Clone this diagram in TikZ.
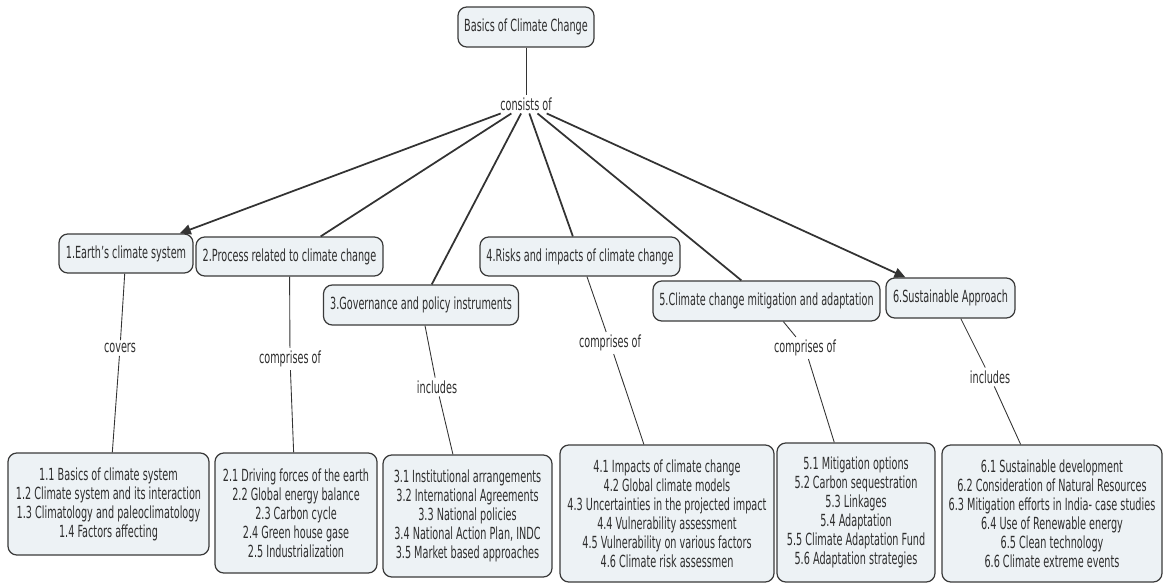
\documentclass[tikz,border=0pt]{standalone}
\usepackage{fontspec}
\setmainfont{DejaVu Sans}[FakeStretch=0.58]
\usetikzlibrary{arrows.meta}

\begin{document}
\begin{tikzpicture}[
    concept/.style={draw=borderColour, fill=fillColour, rounded corners=5pt, align=center,
        text=textColour, line width=0.7pt, inner sep=2pt, font=\fontsize{9.5}{10.8}\selectfont},
    linkword/.style={text=textColour, inner sep=1.5pt, font=\fontsize{9.5}{10.8}\selectfont},
    link/.style={draw=lineColour, line width=0.5pt},
    mainlink/.style={draw=lineColour, line width=1pt}
]
    % Colours
    \definecolor{borderColour}{HTML}{3A3A3A}
    \definecolor{fillColour}{HTML}{EDF2F5}
    \definecolor{textColour}{HTML}{2E2E2E}
    \definecolor{lineColour}{HTML}{333333}

    % Fix the page size
    \useasboundingbox (0,0) rectangle (23.28,-11.68);

    % Root concept
    \node[concept, minimum width=2.72cm, minimum height=0.8cm] (root) at (10.52,-0.54) {Basics of Climate Change};
    \node[linkword] (consists) at (10.52,-2.08) {consists of};

    % First level concepts
    \node[concept, minimum width=2.68cm, minimum height=0.78cm] (earth) at (2.52,-5.07) {1.Earth’s climate system};
    \node[concept, minimum width=3.74cm, minimum height=0.78cm] (process) at (5.79,-5.13) {2.Process related to climate change};
    \node[concept, minimum width=3.9cm, minimum height=0.8cm] (govern) at (8.42,-6.10) {3.Governance and policy instruments};
    \node[concept, minimum width=4.0cm, minimum height=0.78cm] (risks) at (11.60,-5.13) {4.Risks and impacts of climate change};
    \node[concept, minimum width=4.54cm, minimum height=0.8cm] (mitig) at (15.33,-6.02) {5.Climate change mitigation and adaptation};
    \node[concept, minimum width=2.58cm, minimum height=0.8cm] (sustain) at (19.01,-5.96) {6.Sustainable Approach};

    % Linking words
    \node[linkword] (covers) at (2.40,-6.96) {covers};
    \node[linkword] (compTwo) at (5.80,-7.18) {comprises of};
    \node[linkword] (inclThree) at (8.74,-7.74) {includes};
    \node[linkword] (compFour) at (12.20,-6.86) {comprises of};
    \node[linkword] (compFive) at (16.10,-6.96) {comprises of};
    \node[linkword] (inclSix) at (19.80,-7.54) {includes};

    % Second level concepts
    \node[concept, minimum width=4.02cm, minimum height=2.04cm] (earthList) at (2.17,-10.08)
        {1.1 Basics of climate system\\1.2 Climate system and its interaction\\1.3 Climatology and paleoclimatology\\1.4 Factors affecting};
    \node[concept, minimum width=3.24cm, minimum height=2.4cm] (processList) at (5.92,-10.26)
        {2.1 Driving forces of the earth\\2.2 Global energy balance\\2.3 Carbon cycle\\2.4 Green house gase\\2.5 Industrialization};
    \node[concept, minimum width=3.38cm, minimum height=2.44cm] (governList) at (9.35,-10.32)
        {3.1 Institutional arrangements\\3.2 International Agreements\\3.3 National policies\\3.4 National Action Plan, INDC\\3.5 Market based approaches};
    \node[concept, minimum width=4.28cm, minimum height=2.74cm] (risksList) at (13.34,-10.27)
        {4.1 Impacts of climate change\\4.2 Global climate models\\4.3 Uncertainties in the projected impact\\4.4 Vulnerability assessment\\4.5 Vulnerability on various factors\\4.6 Climate risk assessmen};
    \node[concept, minimum width=3.16cm, minimum height=2.78cm] (mitigList) at (17.12,-10.25)
        {5.1 Mitigation options\\5.2 Carbon sequestration\\5.3 Linkages\\5.4 Adaptation\\5.5 Climate Adaptation Fund\\5.6 Adaptation strategies};
    \node[concept, minimum width=4.4cm, minimum height=2.74cm] (sustainList) at (21.04,-10.27)
        {6.1 Sustainable development\\6.2 Consideration of Natural Resources\\6.3 Mitigation efforts in India- case studies\\6.4 Use of Renewable energy\\6.5 Clean technology\\6.6 Climate extreme events};

    % Draw links from the root
    \draw[link] (root) -- (consists);
    \draw[mainlink, -{Triangle[length=2.2mm, width=2mm]}] (consists) -- (earth);
    \draw[mainlink] (consists) -- (process);
    \draw[mainlink] (consists) -- (govern);
    \draw[mainlink] (consists) -- (risks);
    \draw[mainlink] (consists) -- (mitig);
    \draw[mainlink, -{Triangle[length=2.2mm, width=2mm]}] (consists) -- (sustain);

    % Draw links to the topic lists
    \draw[link] (earth) -- (covers) -- (earthList);
    \draw[link] (process) -- (compTwo) -- (processList);
    \draw[link] (govern) -- (inclThree) -- (governList);
    \draw[link] (risks) -- (compFour) -- (risksList);
    \draw[link] (mitig) -- (compFive) -- (mitigList);
    \draw[link] (sustain) -- (inclSix) -- (sustainList);

\end{tikzpicture}
\end{document}
